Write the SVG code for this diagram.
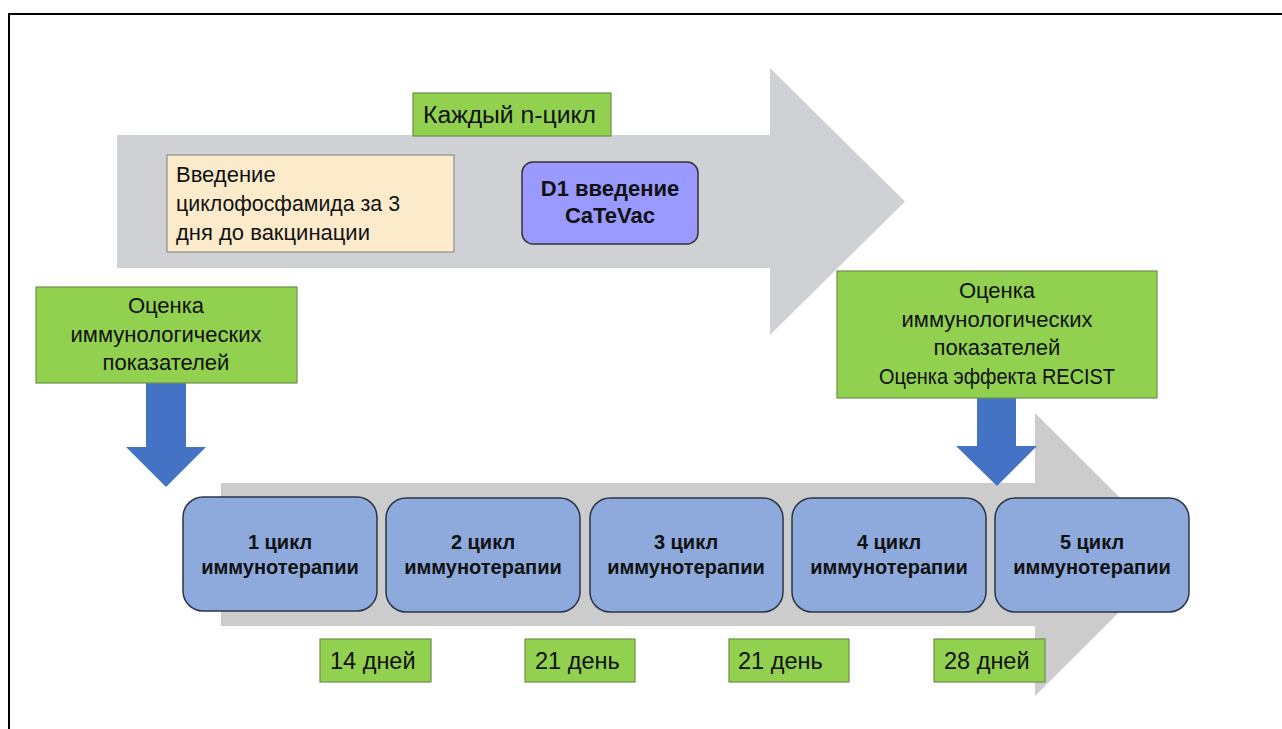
<svg xmlns="http://www.w3.org/2000/svg" width="1282" height="729" viewBox="0 0 1282 729">
<style>
text{font-family:"Liberation Sans",Arial,sans-serif;fill:#111}
.g{fill:#92D050;stroke:#6E8F4A;stroke-width:1.2}
.cyc{fill:#8EA9DB;stroke:#2B3447;stroke-width:1.5}
.blue{fill:#4472C4}
.reg{font-size:22px}
.day{font-size:23.5px}
.bold{font-size:20px;font-weight:bold}
.mid{text-anchor:middle}
</style>
<rect x="0" y="0" width="1282" height="729" fill="#fff"/>
<path d="M9 729 V14 H1282" fill="none" stroke="#000" stroke-width="2"/>
<g id="connectors">
<polygon id="top-arrow" points="117,135 770,135 770,68 905,201.5 770,335 770,268 117,268" fill="#D0D1D5"/>
<polygon id="bottom-arrow" points="221,483 1035,483 1035,413 1177,554.5 1035,696 1035,626 221,626" fill="#CCCCCC"/>
<polygon id="left-blue-arrow" class="blue" points="146,383 186,383 186,447 206,447 166,487 126,447 146,447"/>
<polygon id="right-blue-arrow" class="blue" points="977,398 1016,398 1016,446 1037,446 997,486 956,446 977,446"/>
</g>
<g id="each-cycle">
<rect class="g" x="413" y="93" width="198" height="43"/>
<text class="day" x="423" y="123" textLength="173" lengthAdjust="spacingAndGlyphs">Каждый n-цикл</text>
</g>
<g id="cyclophosphamide">
<rect x="167" y="155" width="287" height="97" fill="#FCEBCB" stroke="#8C8C8C" stroke-width="1.2"/>
<text class="reg" x="176" y="182">Введение</text>
<text class="reg" x="176" y="211" textLength="224" lengthAdjust="spacingAndGlyphs">циклофосфамида за 3</text>
<text class="reg" x="176" y="240">дня до вакцинации</text>
</g>
<g id="d1">
<rect x="522" y="162" width="176" height="82" rx="11" fill="#9999FF" stroke="#333" stroke-width="1.5"/>
<text class="bold mid" x="610" y="196" style="font-size:22px">D1 введение</text>
<text class="bold mid" x="610" y="223" style="font-size:22px">CaTeVac</text>
</g>
<g id="eval-left">
<rect class="g" x="36" y="287" width="261" height="96"/>
<text class="reg mid" x="166" y="313">Оценка</text>
<text class="reg mid" x="166" y="342">иммунологических</text>
<text class="reg mid" x="166" y="370">показателей</text>
</g>
<g id="eval-right">
<rect class="g" x="837" y="271" width="320" height="127"/>
<text class="reg mid" x="997" y="298">Оценка</text>
<text class="reg mid" x="997" y="327">иммунологических</text>
<text class="reg mid" x="997" y="355">показателей</text>
<text class="reg mid" x="997" y="384" textLength="236" lengthAdjust="spacingAndGlyphs">Оценка эффекта RECIST</text>
</g>
<g id="cycle1">
<rect class="cyc" x="183" y="497" width="194" height="114" rx="20"/>
<text class="bold mid" x="280" y="549">1 цикл</text>
<text class="bold mid" x="280" y="574">иммунотерапии</text>
</g>
<g id="cycle2">
<rect class="cyc" x="386" y="498" width="194" height="114" rx="20"/>
<text class="bold mid" x="483" y="549">2 цикл</text>
<text class="bold mid" x="483" y="574">иммунотерапии</text>
</g>
<g id="cycle3">
<rect class="cyc" x="590" y="498" width="193" height="114" rx="20"/>
<text class="bold mid" x="686" y="549">3 цикл</text>
<text class="bold mid" x="686" y="574">иммунотерапии</text>
</g>
<g id="cycle4">
<rect class="cyc" x="792" y="498" width="194" height="114" rx="20"/>
<text class="bold mid" x="889" y="549">4 цикл</text>
<text class="bold mid" x="889" y="574">иммунотерапии</text>
</g>
<g id="cycle5">
<rect class="cyc" x="995" y="498" width="194" height="114" rx="20"/>
<text class="bold mid" x="1092" y="549">5 цикл</text>
<text class="bold mid" x="1092" y="574">иммунотерапии</text>
</g>
<g id="day14">
<rect class="g" x="320" y="639" width="111" height="43"/>
<text class="day" x="330" y="669">14 дней</text>
</g>
<g id="day21a">
<rect class="g" x="525" y="639" width="110" height="43"/>
<text class="day" x="535" y="669">21 день</text>
</g>
<g id="day21b">
<rect class="g" x="729" y="639" width="120" height="43"/>
<text class="day" x="738" y="669">21 день</text>
</g>
<g id="day28">
<rect class="g" x="934" y="639" width="111" height="43"/>
<text class="day" x="944" y="669">28 дней</text>
</g>
</svg>
